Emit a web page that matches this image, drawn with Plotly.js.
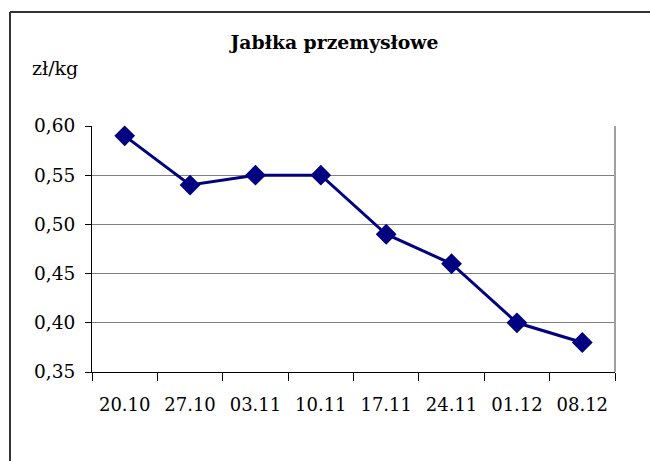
<!DOCTYPE html>
<html>
<head>
<meta charset="utf-8">
<script src="https://cdn.plot.ly/plotly-3.0.1.min.js"></script>
<style>html,body{margin:0;padding:0;background:#fff;}#chart{width:650px;height:461px;}</style>
</head>
<body>
<div id="chart"></div>
<script>
const categories = ["20.10","27.10","03.11","10.11","17.11","24.11","01.12","08.12"];
const prices = [0.59, 0.54, 0.55, 0.55, 0.49, 0.46, 0.40, 0.38];
const yTickVals = [0.35, 0.40, 0.45, 0.50, 0.55, 0.60];
const yTickText = ["0,35","0,40","0,45","0,50","0,55","0,60"];

const L = 92, R = 615, T = 126, B = 372, W = 650, H = 461;
const px = x => (x - L) / (R - L);
const py = y => (B - y) / (B - T);
const SERIF = 'DejaVu Serif';

const trace = {
  x: categories, y: prices, type: 'scatter', mode: 'lines+markers',
  line: {color: '#000080', width: 3},
  marker: {symbol: 'diamond', size: 16, color: '#000080'},
  cliponaxis: false, hoverinfo: 'skip'
};

const layout = {
  width: W, height: H,
  margin: {l: L, r: W - R, t: T, b: H - B, pad: 0},
  paper_bgcolor: '#fff', plot_bgcolor: '#fff',
  showlegend: false,
  font: {family: SERIF, color: '#000', size: 18},
  title: {text: '<b>Jabłka przemysłowe</b>', font: {size: 18.8, family: SERIF, color: '#000'},
          x: 334.5 / W, xanchor: 'center', y: 1 - 42 / H, yanchor: 'middle'},
  xaxis: {
    type: 'category', range: [-0.5, 7.5], tickson: 'boundaries',
    ticks: 'outside', ticklen: 8, tickcolor: '#000', tickwidth: 1,
    ticklabelstandoff: 16,
    showline: true, linecolor: '#000', linewidth: 1,
    showgrid: false, zeroline: false, fixedrange: true,
    tickfont: {size: 18, family: SERIF}
  },
  yaxis: {
    range: [0.35, 0.60], tickvals: yTickVals, ticktext: yTickText,
    ticks: 'outside', ticklen: 6, tickcolor: '#000', tickwidth: 1,
    ticklabelstandoff: 6,
    showline: true, linecolor: '#000', linewidth: 1,
    showgrid: true, gridcolor: '#808080', gridwidth: 1,
    zeroline: false, fixedrange: true, tickfont: {size: 18.5, family: SERIF}
  },
  shapes: [
    {type: 'line', xref: 'paper', yref: 'paper', x0: 1, x1: 1, y0: 0, y1: 1, line: {color: '#a0a0a0', width: 2}},
    {type: 'line', xref: 'paper', yref: 'paper', x0: px(10), x1: px(651), y0: py(12), y1: py(12), line: {color: '#333', width: 2}},
    {type: 'line', xref: 'paper', yref: 'paper', x0: px(10), x1: px(10), y0: py(12), y1: py(462), line: {color: '#333', width: 2}}
  ],
  annotations: [
    {text: 'zł/kg', xref: 'paper', yref: 'paper', x: px(30), y: py(68), xanchor: 'left', yanchor: 'middle',
     showarrow: false, font: {size: 19, family: SERIF, color: '#000'}}
  ]
};

Plotly.newPlot('chart', [trace], layout, {displayModeBar: false, staticPlot: true});
</script>
</body>
</html>
